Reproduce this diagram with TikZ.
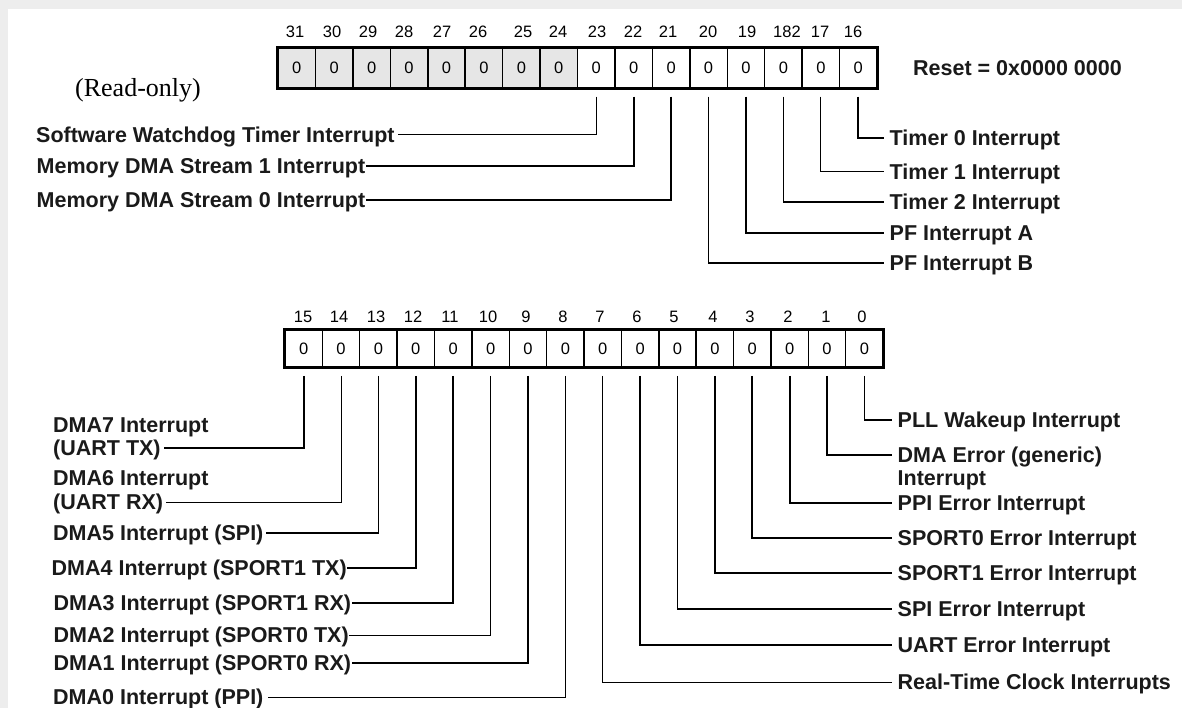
\documentclass[tikz,border=0pt]{standalone}
\usepackage{fontspec}
\setmainfont{Liberation Sans}
\newfontfamily\serifface{Liberation Serif}
\definecolor{cellgray}{HTML}{E6E6E6}
\definecolor{edgegray}{HTML}{EDEDED}
\definecolor{ink}{HTML}{1A1A1A}
\begin{document}
\begin{tikzpicture}[x=1pt,y=-1pt,
  cell/.style={draw, line width=1.5pt, minimum width=37.44pt, minimum height=40pt, inner sep=0pt, font=\fontsize{16.5}{16.5}\selectfont},
  frame/.style={draw, line width=2.4pt},
  bitnum/.style={inner sep=0pt, font=\fontsize{16.5}{17}\selectfont},
  lbl/.style={inner sep=0pt, text height=15.4pt, text depth=0pt, text=ink, font=\bfseries\fontsize{21.5}{24}\selectfont},
  lblL/.style={lbl, anchor=west},
  lblR/.style={lbl, anchor=west, inner xsep=5.5pt},
  conn/.style={draw, line width=1.8pt},
  thinconn/.style={draw, line width=1.0pt}]
\useasboundingbox (0,0) rectangle (1182,708);
\fill[edgegray] (0,0) rectangle (1182,708);
\fill[white] (8,9) rectangle (1182,708);

% ---------- upper register (bits 31..16)
\foreach \b in {31,...,24}
  \node[cell, fill=cellgray] (c\b) at ({278+(31-\b)*37.44+18.72},68) {0};
\foreach \b in {23,...,16}
  \node[cell, fill=white] (c\b) at ({278+(31-\b)*37.44+18.72},68) {0};
\draw[frame] (c31.north west) rectangle (c16.south east);
\foreach \b/\x/\t in {31/295/31,30/332/30,29/368/29,28/404/28,27/442/27,26/478/26,25/523/25,24/558/24,
                      23/597/23,22/633/22,21/668/21,20/708/20,19/747/19,18/787/182,17/820/17,16/853/16}
  \node[bitnum] (n\b) at (\x,32) {\t};

\node[font=\bfseries\fontsize{21.5}{24}\selectfont, text=ink, anchor=west, inner sep=0pt] (reset) at (913,68) {Reset = 0x0000 0000};
\node[font=\serifface\fontsize{26}{28}\selectfont, inner sep=0pt] (ro) at (138,90) {(Read-only)};

% ---------- lower register (bits 15..0)
\foreach \b in {15,...,0}
  \node[cell, fill=white, minimum height=37pt] (c\b) at ({285+(15-\b)*37.38+18.69},348.5) {0};
\draw[frame] (c15.north west) rectangle (c0.south east);
\foreach \b/\x in {15/303,14/339,13/376,12/413,11/450,10/488,9/526,8/563,7/600,6/637,5/674,4/713,3/750,2/788,1/826,0/862}
  \node[bitnum] (n\b) at (\x,317) {\b};

% ---------- labels, upper register
\node[lblL, inner xsep=3pt]   (swt)   at (33,135) {Software Watchdog Timer Interrupt};
\node[lblL, inner xsep=0.5pt] (mdma1) at (36,166) {Memory DMA Stream 1 Interrupt};
\node[lblL, inner xsep=0.5pt] (mdma0) at (36,200) {Memory DMA Stream 0 Interrupt};
\node[lblR] (t0)  at (884,138) {Timer 0 Interrupt};
\node[lblR] (t1)  at (884,172) {Timer 1 Interrupt};
\node[lblR] (t2)  at (884,202) {Timer 2 Interrupt};
\node[lblR] (pfa) at (884,233) {PF Interrupt A};
\node[lblR] (pfb) at (884,263) {PF Interrupt B};

\draw[thinconn] ([yshift=-8pt]c23.south) |- (swt);
\draw[conn] ([yshift=-8pt]c22.south) |- (mdma1);
\draw[conn] ([yshift=-8pt]c21.south) |- (mdma0);
\draw[conn] ([yshift=-8pt]c16.south) |- (t0);
\draw[thinconn] ([yshift=-8pt]c17.south) |- (t1);
\draw[conn] ([yshift=-8pt]c18.south) |- (t2);
\draw[conn] ([yshift=-8pt]c19.south) |- (pfa);
\draw[conn] ([yshift=-8pt]c20.south) |- (pfb);

% ---------- labels, lower register (left)
\node[lblL, inner xsep=3pt] (d7a) at (50,425) {DMA7 Interrupt};
\node[lblL, inner xsep=3pt] (d7)  at (50,448) {(UART TX)\hspace{5pt}};
\node[lblL, inner xsep=3pt] (d6a) at (50,478) {DMA6 Interrupt};
\node[lblL, inner xsep=3pt] (d6)  at (50,502) {(UART RX)};
\node[lblL, inner xsep=2pt] (d5)  at (51,533) {DMA5 Interrupt (SPI)};
\node[lblL, inner xsep=0.5pt] (d4)  at (51,568) {DMA4 Interrupt (SPORT1 TX)};
\node[lblL, inner xsep=0.5pt] (d3)  at (53,603) {DMA3 Interrupt (SPORT1 RX)};
\node[lblL, inner xsep=0.5pt] (d2)  at (53,635) {DMA2 Interrupt (SPORT0 TX)};
\node[lblL, inner xsep=0.5pt] (d1)  at (53,663) {DMA1 Interrupt (SPORT0 RX)};
\node[lblL, inner xsep=4pt] (d0)  at (49,697) {DMA0 Interrupt (PPI)};

% ---------- labels, lower register (right)
\node[lblR] (pll)  at (892,420) {PLL Wakeup Interrupt};
\node[lblR] (dmae) at (892,455) {DMA Error (generic)};
\node[lblR] (dmae2) at (892,478) {Interrupt};
\node[lblR] (ppie) at (892,503) {PPI Error Interrupt};
\node[lblR] (sp0e) at (892,538) {SPORT0 Error Interrupt};
\node[lblR] (sp1e) at (892,573) {SPORT1 Error Interrupt};
\node[lblR] (spie) at (892,609) {SPI Error Interrupt};
\node[lblR] (uare) at (892,645) {UART Error Interrupt};
\node[lblR] (rtc)  at (892,682) {Real-Time Clock Interrupts};

\draw[conn] ([yshift=-8pt]c15.south) |- (d7);
\draw[thinconn] ([yshift=-8pt]c14.south) |- (d6);
\draw[conn] ([yshift=-8pt]c13.south) |- (d5);
\draw[conn] ([yshift=-8pt]c12.south) |- (d4);
\draw[conn] ([yshift=-8pt]c11.south) |- (d3);
\draw[thinconn] ([yshift=-8pt]c10.south) |- (d2);
\draw[conn] ([yshift=-8pt]c9.south) |- (d1);
\draw[thinconn] ([yshift=-8pt]c8.south) |- (d0);
\draw[thinconn] ([yshift=-8pt]c7.south) |- (rtc);
\draw[conn] ([yshift=-8pt]c6.south) |- (uare);
\draw[conn] ([yshift=-8pt]c5.south) |- (spie);
\draw[conn] ([yshift=-8pt]c4.south) |- (sp1e);
\draw[conn] ([yshift=-8pt]c3.south) |- (sp0e);
\draw[conn] ([yshift=-8pt]c2.south) |- (ppie);
\draw[conn] ([yshift=-8pt]c1.south) |- (dmae);
\draw[conn] ([yshift=-8pt]c0.south) |- (pll);
\end{tikzpicture}
\end{document}
